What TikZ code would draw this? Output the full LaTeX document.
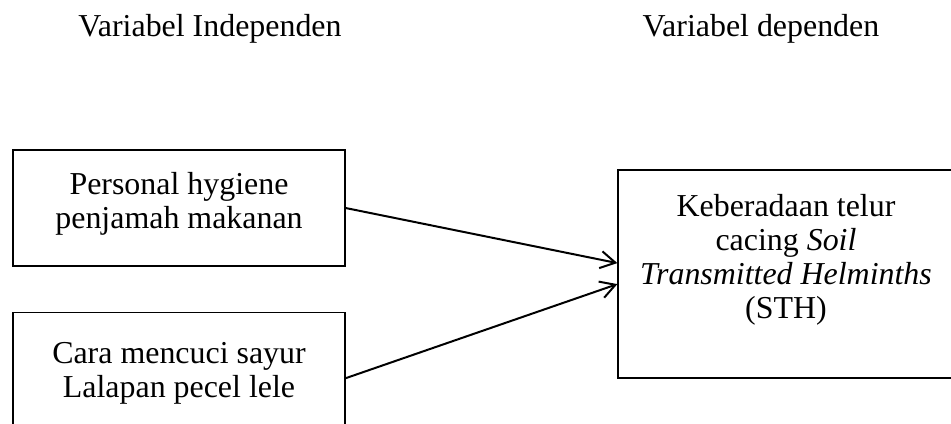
\documentclass[tikz,border=0pt]{standalone}
\usepackage{fontspec}
\setmainfont{Liberation Serif}
\usetikzlibrary{arrows.meta,positioning}

\begin{document}
\begin{tikzpicture}[x=0.376pt,y=-0.376pt,
  varbox/.style={draw,line width=0.5pt,align=center,font=\fontsize{12}{12.8}\selectfont,minimum width=124.8pt,inner sep=0pt},
  title/.style={font=\fontsize{12}{12.8}\selectfont,anchor=base},
  arr/.style={-{Straight Barb[length=5.6pt,width=6.4pt]},line width=0.75pt}
]
  \clip (0,0) rectangle (951,423);
  \node[title] (tind) at (210,36) {Variabel Independen};
  \node[title] (tdep) at (761,36) {Variabel dependen};
  \node[varbox,minimum height=43.6pt,text depth=5.6pt] (ph) at (179,208) {Personal hygiene\\penjamah makanan};
  \node[varbox,minimum height=49.6pt,text depth=6.2pt,below=16.9pt of ph] (cm) {Cara mencuci sayur\\Lalapan pecel lele};
  \node[varbox,minimum width=126.3pt,minimum height=78.2pt,text depth=13.2pt] (sth) at (786,274) {Keberadaan telur\\cacing \textit{Soil}\\\textit{Transmitted Helminths}\\(STH)};
  \draw[arr] (ph.east) -- ([yshift=4.1pt]sth.west);
  \draw[arr] (cm.east) -- ([yshift=-3.8pt]sth.west);
\end{tikzpicture}
\end{document}
